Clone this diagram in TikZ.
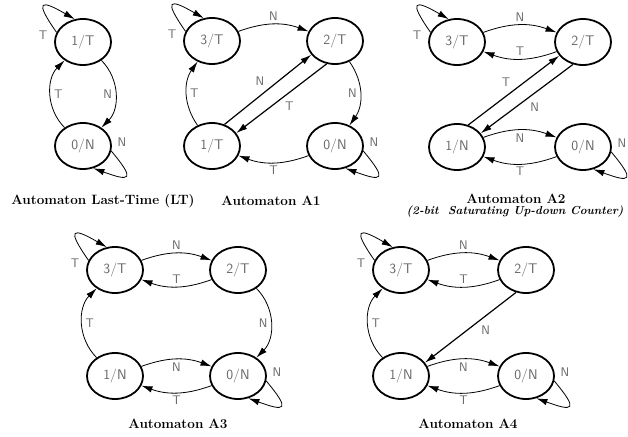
\documentclass[tikz,border=0pt]{standalone}
\usepackage{fontspec}
\usepackage{tikz}
\usetikzlibrary{arrows.meta,positioning,shapes.geometric}
\tikzstyle{state}=[draw, ellipse, line width=1.8pt, minimum width=56pt, minimum height=46pt, inner sep=0pt, text=black!60, font=\sffamily\fontsize{14}{14}\selectfont]
\tikzstyle{lbl}=[text=black!60, font=\sffamily\fontsize{12.5}{12.5}\selectfont, inner sep=3pt]
\tikzstyle{trans}=[->, line width=0.8pt]
\tikzstyle{link}=[->, line width=1.2pt]
\tikzstyle{loopT}=[out=125,in=150,looseness=4.5]
\tikzstyle{loopN}=[out=-50,in=-20,looseness=4]
\tikzstyle{caption}=[font=\bfseries\fontsize{13.5}{15}\selectfont]
\tikzstyle{subcaption}=[font=\bfseries\itshape\fontsize{11.6}{13}\selectfont]

\begin{document}
\begin{tikzpicture}[x=1pt,y=1pt,node distance=124pt,>={Latex[length=11pt,width=6.5pt]}]
        \useasboundingbox (0,0) rectangle (628,436);
        % Last-Time
        \node [state] (lt1) at (83,394) {1/T};
        \node [state] (lt0) [below of=lt1,node distance=104pt] {0/N};
        \path[trans]
        (lt1.160) edge[loopT] node[lbl,left,pos=0,xshift=-6pt,yshift=-3pt] {T} (lt1.110)
        (lt1) edge[bend left=45] node[lbl,left] {N} (lt0)
        (lt0) edge[bend left=45] node[lbl,right] {T} (lt1)
        (lt0.-10) edge[loopN] node[lbl,right,pos=0,xshift=3pt,yshift=9pt] {N} (lt0.-65);
        \node [caption] (ltcap) at (103,235) {Automaton Last-Time (LT)};
        % A1
        \node [state] (a1s3) at (212,395) {3/T};
        \node [state] (a1s2) [right of=a1s3,node distance=123pt] {2/T};
        \node [state] (a1s1) [below of=a1s3,node distance=105pt] {1/T};
        \node [state] (a1s0) [right of=a1s1,node distance=123pt] {0/N};
        \path[trans]
        (a1s3.160) edge[loopT] node[lbl,left,pos=0,xshift=-6pt,yshift=-3pt] {T} (a1s3.110)
        (a1s3) edge[bend left=20] node[lbl,above] {N} (a1s2)
        (a1s2) edge[bend left=35] node[lbl,left] {N} (a1s0)
        (a1s0) edge[bend left=20] node[lbl,below] {T} (a1s1)
        (a1s1) edge[bend left=35] node[lbl,right] {T} (a1s3)
        (a1s0.-10) edge[loopN] node[lbl,right,pos=0,xshift=3pt,yshift=9pt] {N} (a1s0.-65);
        \path[link]
        (a1s1.60) edge node[lbl,above left] {N} (a1s2.-150)
        (a1s2.-110) edge node[lbl,below right] {T} (a1s1.28);
        \node [caption] (a1cap) at (271,235) {Automaton A1};
        % A2
        \node [state] (a2s3) at (457,394) {3/T};
        \node [state] (a2s2) [right of=a2s3,node distance=126pt] {2/T};
        \node [state] (a2s1) [below of=a2s3,node distance=105pt] {1/N};
        \node [state] (a2s0) [right of=a2s1,node distance=126pt] {0/N};
        \path[trans]
        (a2s3.160) edge[loopT] node[lbl,left,pos=0,xshift=-6pt,yshift=-3pt] {T} (a2s3.110)
        (a2s3) edge[bend left=20] node[lbl,above] {N} (a2s2)
        (a2s2) edge[bend left=20] node[lbl,above] {T} (a2s3)
        (a2s1) edge[bend left=20] node[lbl,below] {N} (a2s0)
        (a2s0) edge[bend left=20] node[lbl,below] {T} (a2s1)
        (a2s0.-10) edge[loopN] node[lbl,right,pos=0,xshift=3pt,yshift=9pt] {N} (a2s0.-65);
        \path[link]
        (a2s1.63) edge node[lbl,above left] {T} (a2s2.-150)
        (a2s2.-114) edge node[lbl,below right] {N} (a2s1.30);
        \node [caption] (a2cap) at (516,237) {Automaton A2};
        \node [subcaption] (a2sub) at (515,224) {(2-bit~ Saturating Up-down Counter)};
        % A3
        \node [state] (a3s3) at (115,166) {3/T};
        \node [state] (a3s2) [right of=a3s3,node distance=123pt] {2/T};
        \node [state] (a3s1) [below of=a3s3,node distance=106pt] {1/N};
        \node [state] (a3s0) [right of=a3s1,node distance=123pt] {0/N};
        \path[trans]
        (a3s3.160) edge[loopT] node[lbl,left,pos=0,xshift=-6pt,yshift=-3pt] {T} (a3s3.110)
        (a3s3) edge[bend left=20] node[lbl,above] {N} (a3s2)
        (a3s2) edge[bend left=20] node[lbl,above] {T} (a3s3)
        (a3s2) edge[bend left=45] node[lbl,left] {N} (a3s0)
        (a3s1) edge[bend left=45] node[lbl,right] {T} (a3s3)
        (a3s1) edge[bend left=20] node[lbl,below] {N} (a3s0)
        (a3s0) edge[bend left=20] node[lbl,below] {T} (a3s1)
        (a3s0.-10) edge[loopN] node[lbl,right,pos=0,xshift=3pt,yshift=9pt] {N} (a3s0.-65);
        \node [caption] (a3cap) at (178,12) {Automaton A3};
        % A4
        \node [state] (a4s3) at (401,166) {3/T};
        \node [state] (a4s2) [right of=a4s3,node distance=125pt] {2/T};
        \node [state] (a4s1) [below of=a4s3,node distance=106pt] {1/N};
        \node [state] (a4s0) [right of=a4s1,node distance=125pt] {0/N};
        \path[trans]
        (a4s3.160) edge[loopT] node[lbl,left,pos=0,xshift=-6pt,yshift=-3pt] {T} (a4s3.110)
        (a4s3) edge[bend left=20] node[lbl,above] {N} (a4s2)
        (a4s2) edge[bend left=20] node[lbl,above] {T} (a4s3)
        (a4s1) edge[bend left=45] node[lbl,right] {T} (a4s3)
        (a4s1) edge[bend left=20] node[lbl,below] {N} (a4s0)
        (a4s0) edge[bend left=20] node[lbl,below] {T} (a4s1)
        (a4s0.-10) edge[loopN] node[lbl,right,pos=0,xshift=3pt,yshift=9pt] {N} (a4s0.-65);
        \path[link]
        (a4s2.-114) edge node[lbl,below right,pos=0.42] {N} (a4s1.29);
        \node [caption] (a4cap) at (468,12) {Automaton A4};
\end{tikzpicture}
\end{document}
